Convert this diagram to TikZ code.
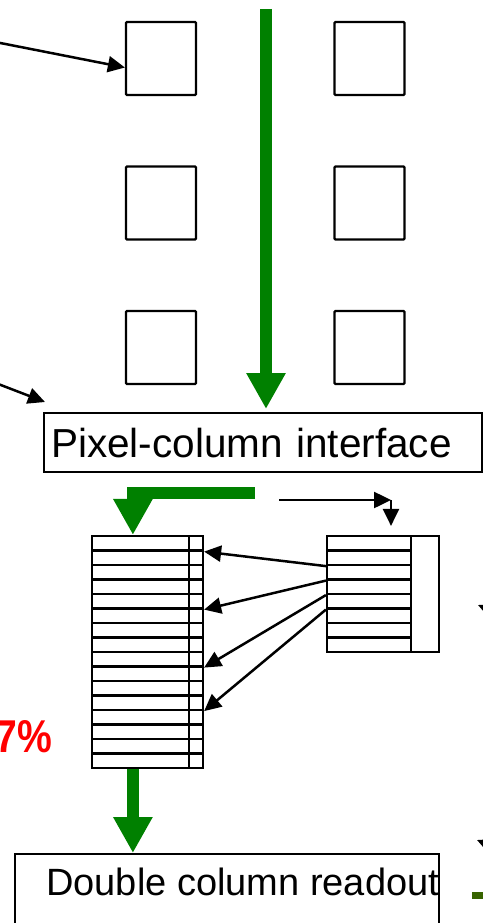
\documentclass[tikz,border=0pt]{standalone}
\usepackage{fontspec}
\setmainfont{Liberation Sans}
\usepackage{tikz}
\usetikzlibrary{arrows.meta,calc,positioning}
\definecolor{busgreen}{RGB}{0,128,0}
\definecolor{darkbus}{RGB}{56,100,0}

\begin{document}
\begin{tikzpicture}[x=1pt, y=-1pt, >={Triangle[length=17pt,width=16pt]},
	pixel/.style={draw, line width=2.2pt, rounded corners=1pt, minimum width=70pt, minimum height=73pt, inner sep=0pt},
	slot/.style={draw, line width=2.2pt, minimum height=14.5pt, inner sep=0pt},
	panel/.style={draw, line width=2.2pt, inner sep=0pt},
	link/.style={->, line width=2.5pt},
	bus/.style={busgreen, line width=12pt, -{Triangle[length=36pt,width=37pt]}}]
		
		\useasboundingbox (0,0) rectangle (482,923);
		
		\foreach \c/\x in {1/161,2/369.5}
		\foreach \r in {1,2,3}
		\node [pixel] (pix-\c-\r) at (\x,{58.5+144.5*(\r-1)}) {};
		
		\node [panel, anchor=north west, minimum width=438pt, minimum height=59pt, text width=424pt, inner xsep=7pt, align=left,
			font=\fontsize{40.5}{48}\selectfont] (iface) at (43,412) {Pixel-column interface};
		
		%\coordinate (bus-top) at (266,0);
		\coordinate (bus-top) at (266,9);
		\draw [bus, shorten >=3pt] (bus-top) -- (bus-top |- iface.north);
		
		% column buffer and its flag bits
		\foreach \r in {1,...,16} {
			\node [slot, minimum width=97pt] (left-\r) at (140.5,{528.75+14.5*\r}) {};
			\node [slot, minimum width=14pt] (lbit-\r) at (196,{528.75+14.5*\r}) {};
		}
		
		\foreach \r in {1,...,8}
		\node [slot, minimum width=84pt] (right-\r) at (369,{528.75+14.5*\r}) {};
		\node [slot, minimum width=28pt, minimum height=116pt] (rbit) at (425,594) {};
		
		\node [panel, anchor=north west, minimum width=424pt, minimum height=120pt] (readout) at (14,853) {};
		\node [anchor=base west, inner sep=0pt, font=\fontsize{38}{46}\selectfont] (readout-text) at (46,895) {Double column readout};
		
		% green buses
		\coordinate (fetch) at (255,492.5);
		\coordinate (drop) at ($(left-1.north west)+(42,0)$);
		\draw [bus] (fetch) -- (fetch -| drop) -- (drop);
		\draw [bus] (left-16.south -| drop) -- (readout.north -| drop);
		
		\coordinate (feed) at (279,500);
		\coordinate (turn) at (391,500);
		\draw [link] (feed) -- (turn);
		\draw [link] (turn) -- ($(turn |- right-1.north)+(0,-9)$);
		
		\foreach \s/\t in {2/1,3/5,4/9,5/12}
		\draw [link] (right-\s.south west) -- (lbit-\t.south east);
		
		% arrows coming in from the sides
		\coordinate (note-a) at (-20,39);
		\coordinate (note-b) at (-20,377);
		\draw [link] (note-a) -- ($(pix-1-1.north west)!.62!(pix-1-1.south west)$);
		\draw [link] (note-b) -- ($(iface.north west)+(2,-10)$);
		
		\coordinate (note-c) at (560,640);
		\coordinate (note-d) at (560,875);
		\draw [link] (note-c) -- (478,605);
		\draw [link] (note-d) -- (477,840);
		\fill [darkbus] (472,892) rectangle (500,899);
		
		\node [anchor=base east, text=red, font=\fontsize{46}{50}\selectfont\bfseries, xscale=.85] (share) at (55,752) {7\%};
		
\end{tikzpicture}
\end{document}
